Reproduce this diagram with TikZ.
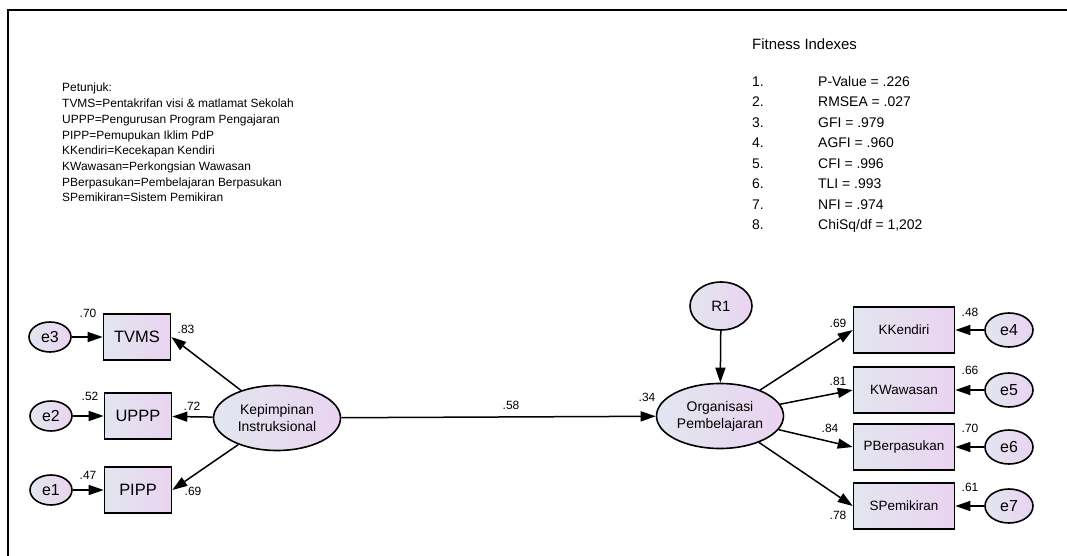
\documentclass[tikz,border=0pt]{standalone}
\usepackage{fontspec}
\setmainfont{Liberation Sans}
\usetikzlibrary{shapes.geometric,arrows.meta}

\definecolor{semleft}{HTML}{E2E6EF}
\definecolor{semright}{HTML}{EAD3F0}

\newcommand\legfont{\fontsize{12}{14}\selectfont}
\newcommand\fitfont{\fontsize{14}{16}\selectfont}

\tikzset{
  obs/.style={draw,line width=1.6bp,rectangle,inner sep=0pt,
    left color=semleft,right color=semright},
  lat/.style={draw,line width=1.6bp,ellipse,inner sep=0pt,align=center,
    left color=semleft,right color=semright},
  coef/.style={font=\fontsize{12}{13}\selectfont,inner sep=0pt},
  semarrow/.style={draw,line width=1.5bp,-{Triangle[length=15bp,width=10bp]}}
}

\begin{document}
\begin{tikzpicture}[x=1bp,y=-1bp]

        \useasboundingbox (0,0) rectangle (1067,556);
        \draw[line width=2bp] (8,556) -- (8,10) -- (1067,10);

        % legend
        \begin{scope}[every node/.style={anchor=base west,font=\legfont,inner sep=0pt}]
          \node (p0) at (62,92)    {Petunjuk:};
          \node (p1) at (62,107.7) {TVMS=Pentakrifan visi \& matlamat Sekolah};
          \node (p2) at (62,123.4) {UPPP=Pengurusan Program Pengajaran};
          \node (p3) at (62,139.1) {PIPP=Pemupukan Iklim PdP};
          \node (p4) at (62,154.8) {KKendiri=Kecekapan Kendiri};
          \node (p5) at (62,170.5) {KWawasan=Perkongsian Wawasan};
          \node (p6) at (62,186.2) {PBerpasukan=Pembelajaran Berpasukan};
          \node (p7) at (62,201.9) {SPemikiran=Sistem Pemikiran};
        \end{scope}

        % fitness indexes
        \begin{scope}[every node/.style={anchor=base west,font=\fitfont,inner sep=0pt}]
          \node[font=\fontsize{15}{17}\selectfont] (f0) at (752,50) {Fitness Indexes};
          \node (n1) at (752,87)  {1.};  \node (f1) at (818,87)  {P-Value = .226};
          \node (n2) at (752,107) {2.};  \node (f2) at (818,107) {RMSEA = .027};
          \node (n3) at (752,128) {3.};  \node (f3) at (818,128) {GFI = .979};
          \node (n4) at (752,148) {4.};  \node (f4) at (818,148) {AGFI = .960};
          \node (n5) at (752,169) {5.};  \node (f5) at (818,169) {CFI = .996};
          \node (n6) at (752,189) {6.};  \node (f6) at (818,189) {TLI = .993};
          \node (n7) at (752,210) {7.};  \node (f7) at (818,210) {NFI = .974};
          \node (n8) at (752,230) {8.};  \node (f8) at (818,230) {ChiSq/df = 1,202};
        \end{scope}

        % indicators
        \begin{scope}[every node/.style={obs,minimum width=67bp,minimum height=46bp,
            font=\fontsize{16.5}{18}\selectfont}]
          \node (tvms) at (137,337) {TVMS};
          \node (uppp) at (138,416) {UPPP};
          \node (pipp) at (138,490) {PIPP};
        \end{scope}
        \begin{scope}[every node/.style={obs,minimum width=101bp,minimum height=46bp,
            font=\fontsize{13.5}{15}\selectfont}]
          \node (kken) at (904,330) {KKendiri};
          \node (kwaw) at (904,390) {KWawasan};
          \node (pber) at (904,447) {PBerpasukan};
          \node (spem) at (904,506) {SPemikiran};
        \end{scope}

        % errors
        \begin{scope}[every node/.style={lat,minimum width=42bp,minimum height=30bp,
            font=\fontsize{16}{18}\selectfont}]
          \node (e3) at (50,337) {e3};
          \node (e2) at (51,416) {e2};
          \node (e1) at (51,490) {e1};
        \end{scope}
        \begin{scope}[every node/.style={lat,minimum width=48bp,minimum height=34bp,
            font=\fontsize{16}{18}\selectfont}]
          \node (e4) at (1009,330) {e4};
          \node (e5) at (1009,390) {e5};
          \node (e6) at (1009,447) {e6};
          \node (e7) at (1009,506) {e7};
        \end{scope}

        % latent variables
        \node[lat,minimum width=62bp,minimum height=48bp,font=\fontsize{15}{17}\selectfont]
          (r1) at (721,306) {R1};
        \begin{scope}[every node/.style={lat,minimum width=127bp,minimum height=65bp,
            font=\fontsize{14}{17}\selectfont}]
          \node (kep) at (277,418) {Kepimpinan\\Instruksional};
          \node (org) at (720,416) {Organisasi\\Pembelajaran};
        \end{scope}

        \begin{scope}[every edge/.style={semarrow}]
          \path (e3)  edge (tvms);
          \path (e2)  edge (uppp);
          \path (e1)  edge (pipp);
          \path (kep) edge (tvms.east);
          \path (kep) edge (uppp);
          \path (kep) edge (pipp.east);
          \path (kep) edge (org);
          \path (r1)  edge (org);
          \path (org) edge (kken.west);
          \path (org) edge (kwaw.west);
          \path (org) edge (pber.west);
          \path (org) edge (spem.west);
          \path (e4)  edge (kken);
          \path (e5)  edge (kwaw);
          \path (e6)  edge (pber);
          \path (e7)  edge (spem);
        \end{scope}

        % estimates
        \begin{scope}[every node/.style={coef}]
          \node (c1)  at (88,313)  {.70};
          \node (c2)  at (186,329) {.83};
          \node (c3)  at (90,396)  {.52};
          \node (c4)  at (192,406) {.72};
          \node (c5)  at (88,475)  {.47};
          \node (c6)  at (193,491) {.69};
          \node (c7)  at (511,405) {.58};
          \node (c8)  at (647,397) {.34};
          \node (c9)  at (838,323) {.69};
          \node (c10) at (970,312) {.48};
          \node (c11) at (838,381) {.81};
          \node (c12) at (970,370) {.66};
          \node (c13) at (830,428) {.84};
          \node (c14) at (970,428) {.70};
          \node (c15) at (838,515) {.78};
          \node (c16) at (970,487) {.61};
        \end{scope}

      \end{tikzpicture}
\end{document}
